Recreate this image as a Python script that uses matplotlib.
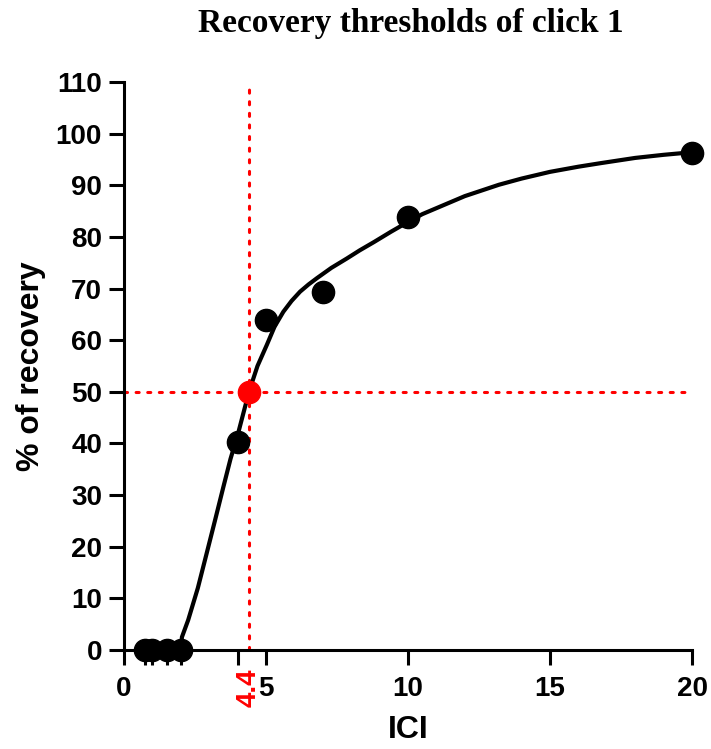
import matplotlib
matplotlib.use("Agg")
import matplotlib.pyplot as plt

# measured recovery (% of click 1) against inter-click interval
ici = [0.75, 1, 1.5, 2, 4, 5, 7, 10, 20]
recovery = [0, 0, 0, 0, 40.3, 63.9, 69.3, 83.8, 96.3]

# fitted curve, sampled along the fit
fit_x = [2.0, 2.04, 2.26, 2.6, 2.91, 3.2, 3.5, 3.75, 4.02, 4.4, 4.7, 5.03,
         5.3, 5.61, 5.9, 6.2, 6.5, 6.79, 7.3, 7.84, 8.3, 8.8, 9.4, 10.0,
         10.5, 11.1, 12.0, 13.2, 14.0, 15.0, 16.0, 16.8, 18.0, 19.0, 20.0]
fit_y = [0, 2.5, 5.8, 12.0, 18.7, 25.0, 31.6, 37.0, 42.0, 50.0, 55.0, 59.1,
         62.6, 65.5, 67.6, 69.4, 70.8, 72.0, 74.0, 75.8, 77.4, 79.0, 81.0,
         82.9, 84.4, 85.8, 87.9, 90.1, 91.3, 92.6, 93.6, 94.3, 95.3, 95.9,
         96.4]

# 50 % recovery threshold
thr_x = 4.4
thr_y = 50

x_ticks = [0, 5, 10, 15, 20]
y_ticks = list(range(0, 111, 10))

sans = "Liberation Sans"
fig = plt.figure(figsize=(7.11, 7.49), dpi=100)
ax = fig.add_axes([0.1744, 0.1322, 0.7989, 0.7583])

ax.plot(fit_x, fit_y, color="black", lw=3, solid_capstyle="round",
        solid_joinstyle="round", zorder=3)
ax.plot(ici, recovery, "o", color="black", ms=16, clip_on=False, zorder=4)

dots = (0, (1, 2.8))
ax.axhline(thr_y, color="red", lw=2.2, ls=dots, dash_capstyle="round", zorder=2)
ax.axvline(thr_x, color="red", lw=2.2, ls=dots, dash_capstyle="round", zorder=2)
ax.plot([thr_x], [thr_y], "o", color="red", ms=16, zorder=5)

ax.set_xlim(0, 20)
ax.set_ylim(0, 110)
ax.set_xticks(x_ticks)
ax.set_xticks(ici[:5], minor=True)
ax.set_yticks(y_ticks)

for side in ["top", "right"]:
    ax.spines[side].set_visible(False)
for side in ["left", "bottom"]:
    ax.spines[side].set_linewidth(2.2)

ax.tick_params(axis="both", which="both", length=10.8, width=2.2,
               labelsize=20)
ax.tick_params(axis="x", which="both", pad=8)
ax.tick_params(axis="y", pad=5)
for lab in ax.get_xticklabels() + ax.get_yticklabels():
    lab.set_fontfamily(sans)
    lab.set_fontweight("bold")

ax.annotate(str(thr_x), xy=(thr_x, 0), xycoords=("data", "axes fraction"),
            xytext=(0, -13), textcoords="offset points", rotation=90,
            ha="center", va="top", color="red", fontsize=20,
            fontweight="bold", family=sans)

ax.set_xlabel("ICI", fontsize=23, fontweight="bold", family=sans, labelpad=9)
ax.set_ylabel("% of recovery", fontsize=23, fontweight="bold", family=sans,
              labelpad=7)
fig.text(0.578, 0.968, "Recovery thresholds of click 1", ha="center",
         va="center", fontsize=24, fontweight="bold", family="Liberation Serif")

fig.savefig("out.png", dpi=100)
